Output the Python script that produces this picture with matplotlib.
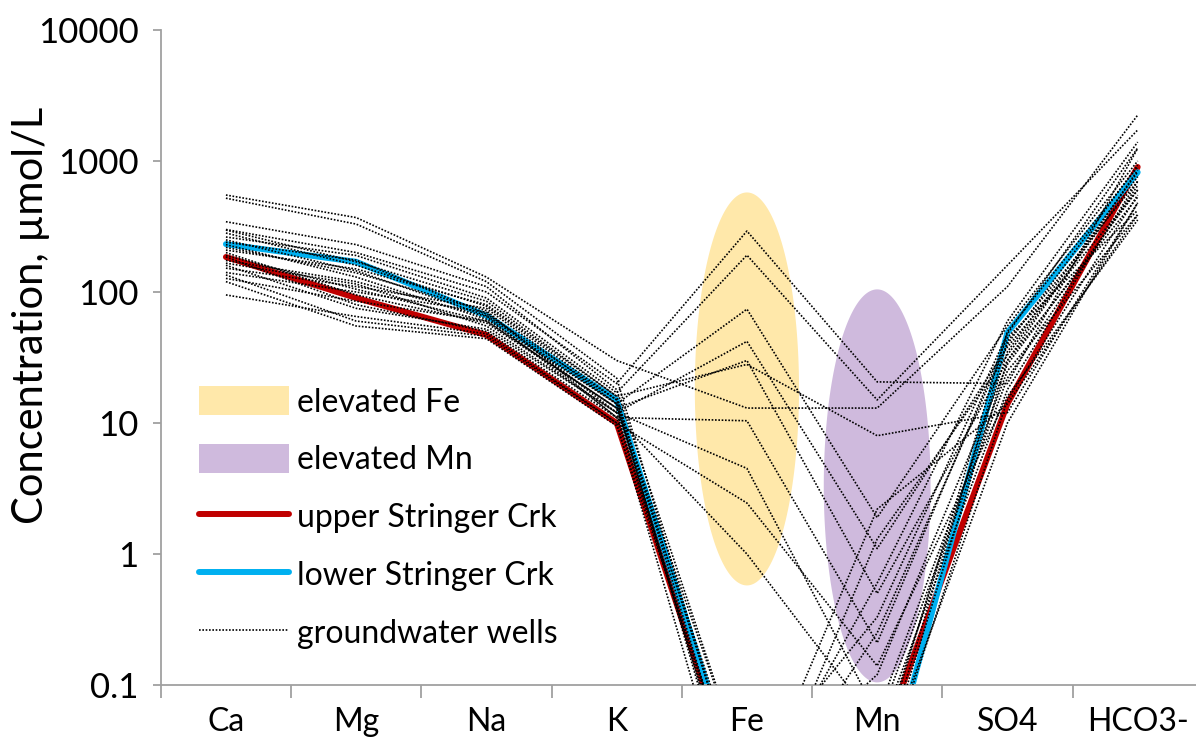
import numpy as np
import matplotlib
matplotlib.use("Agg")
import matplotlib.pyplot as plt
from matplotlib.patches import Patch
from matplotlib.lines import Line2D

plt.rcParams['font.family'] = ['Lato', 'DejaVu Sans']

ions = ["Ca", "Mg", "Na", "K", "Fe", "Mn", "SO4", "HCO3-"]

# stream samples, umol/L
upper_stringer = [185, 90, 47, 10, 0.01, 0.03, 14, 900]
lower_stringer = [232, 170, 66, 15, 0.011, 0.01, 49, 820]

# groundwater wells, one row per well (same ion order)
wells = [
    [300, 200, 100, 20, 292, 20.6, 20, 1250],
    [263, 190, 90, 17, 191, 15, 160, 1725],
    [152, 110, 75, 14, 74, 1.9, 55, 1000],
    [141, 100, 70, 12, 42, 1.1, 38, 600],
    [127, 85, 60, 13, 30, 0.5, 30, 530],
    [209, 150, 80, 16, 28, 8, 12, 480],
    [550, 370, 130, 30, 13, 13, 110, 2240],
    [174, 120, 65, 11, 10.4, 0.21, 45, 420],
    [166, 115, 55, 12, 4.5, 0.06, 25, 390],
    [95, 65, 48, 10, 2.45, 0.14, 16, 355],
    [219, 140, 72, 11, 1.0, 0.05, 22, 650],
    [520, 330, 120, 22, 0.01, 0.6, 60, 1395],
    [344, 230, 110, 18, 0.02, 0.33, 48, 1257],
    [297, 170, 85, 16, 0.008, 0.25, 40, 930],
    [282, 160, 78, 15, 0.005, 0.03, 35, 824],
    [240, 175, 68, 15, 0.012, 0.02, 42, 700],
    [230, 130, 62, 14, 0.006, 1.3, 33, 760],
    [200, 95, 58, 13, 0.015, 0.12, 28, 601],
    [185, 80, 50, 11, 0.009, 0.04, 18, 700],
    [160, 75, 52, 12, 0.007, 0.015, 15, 550],
    [135, 60, 46, 10, 0.004, 0.02, 10, 478],
    [120, 55, 44, 9.5, 0.01, 2.2, 14, 387],
    [250, 145, 66, 14, 0.02, 0.018, 30, 850],
    [190, 105, 60, 13, 0.008, 0.025, 50, 900],
]

# shaded zones: (x centre, half width, log10 centre, log10 half height)
fe_zone = (4.0, 0.40, 1.26, 1.50)
mn_zone = (5.0, 0.41, 0.52, 1.50)

fig = plt.figure(figsize=(11.96, 7.48), dpi=100)
ax = fig.add_axes([160.8 / 1196, 63 / 748, 1042 / 1196, 655 / 748])

x = np.arange(len(ions))


def zone(z, color):
    t = np.linspace(0, 2 * np.pi, 200)
    xc, a, lc, b = z
    ax.fill(xc + a * np.cos(t), 10 ** (lc + b * np.sin(t)), color=color, lw=0, zorder=1)


zone(fe_zone, "#FFE8AA")
zone(mn_zone, "#CFBADD")

ax.plot(x, upper_stringer, color="#C00000", lw=4.3, solid_capstyle="round", zorder=2)
ax.plot(x, lower_stringer, color="#00B0F0", lw=4.3, solid_capstyle="round", zorder=2)
for w in wells:
    ax.plot(x, w, color="black", lw=1.2, ls=(0, (1, 1.0)), zorder=3)

ax.set_yscale("log")
ax.set_ylim(0.1, 10000)
ax.set_xlim(-0.5, 7.5)
ax.set_yticks([0.1, 1, 10, 100, 1000, 10000])
ax.set_yticklabels(["0.1", "1", "10", "100", "1000", "10000"])
ax.yaxis.set_minor_locator(matplotlib.ticker.NullLocator())
ax.set_xticks(x)
ax.set_xticklabels(ions)
ax.set_xticks(np.arange(-0.5, 8, 1), minor=True)
ax.tick_params(axis="x", which="major", length=0, pad=16, labelsize=23)
ax.tick_params(axis="x", which="minor", length=9, width=1.3, color="#A0A0A0", direction="out")
ax.tick_params(axis="y", which="major", length=6, width=1.3, color="#A0A0A0", labelsize=25, pad=10)

for s in ["top", "right"]:
    ax.spines[s].set_visible(False)
for s in ["left", "bottom"]:
    ax.spines[s].set_color("#A0A0A0")
    ax.spines[s].set_linewidth(1.3)

fig.text(31 / 1196, 1 - 315 / 748, "Concentration, µmol/L", fontsize=30, rotation=90,
         ha="center", va="center")

handles = [
    Patch(facecolor="#FFE8AA", edgecolor="none", label="elevated Fe"),
    Patch(facecolor="#CFBADD", edgecolor="none", label="elevated Mn"),
    Line2D([], [], color="#C00000", lw=4.3, solid_capstyle="round", label="upper Stringer Crk"),
    Line2D([], [], color="#00B0F0", lw=4.3, solid_capstyle="round", label="lower Stringer Crk"),
    Line2D([], [], color="black", lw=1.2, ls=(0, (1, 1.0)), label="groundwater wells"),
]
ax.legend(handles=handles, loc="upper left", bbox_to_anchor=(0.037, 0.456), frameon=False,
          fontsize=23, handlelength=2.8, handleheight=1.0, handletextpad=0.25, labelspacing=0.83,
          borderaxespad=0, borderpad=0)

fig.savefig("out.png", dpi=100)
